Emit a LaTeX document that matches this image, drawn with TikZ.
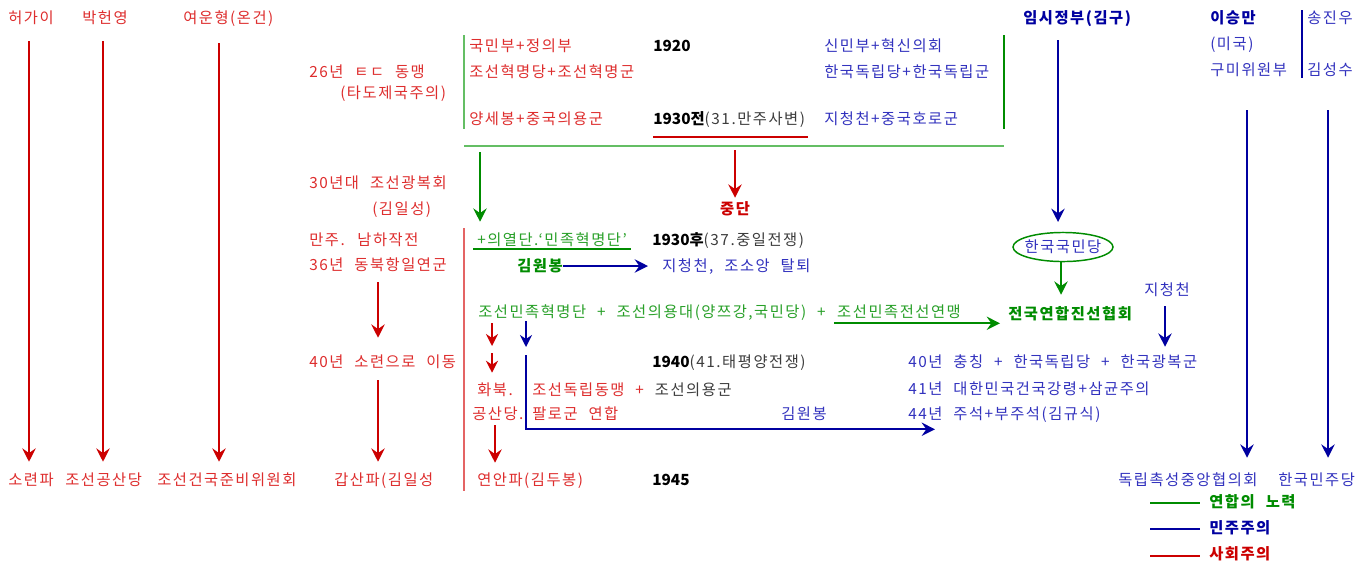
\documentclass[tikz,border=0pt]{standalone}
\usepackage{fontspec}
\newfontfamily\kr[LetterSpace=10,WordSpace=2.2]{Noto Sans CJK KR}
\newfontfamily\krn{Noto Sans CJK KR}
\usetikzlibrary{arrows.meta,calc,shapes.geometric}
\definecolor{tred}{RGB}{222,45,45}
\definecolor{ared}{RGB}{204,0,0}
\definecolor{lred}{RGB}{228,100,100}
\definecolor{tblue}{RGB}{50,50,190}
\definecolor{ablue}{RGB}{0,0,160}
\definecolor{tgreen}{RGB}{40,160,40}
\definecolor{agreen}{RGB}{0,140,0}
\definecolor{lgreen}{RGB}{100,190,100}
\definecolor{tgray}{RGB}{60,60,60}
\begin{document}
\begin{tikzpicture}[x=0.75pt,y=-0.75pt,
  lbl/.style={inner sep=0pt, anchor=west, font=\kr\fontsize{11.5pt}{13pt}\selectfont, text height=10pt, text depth=2pt},
  bld/.style={font=\kr\bfseries\fontsize{11.5pt}{13pt}\selectfont},
  rt/.style={lbl, text=tred},
  bt/.style={lbl, text=tblue},
  gt/.style={lbl, text=tgreen},
  kt/.style={lbl, text=black},
  arr/.style={line width=1.5pt, -{Stealth[length=10pt,width=10pt,inset=3.5pt]}},
  sarr/.style={line width=1.5pt, -{Stealth[length=9pt,width=9pt,inset=3pt]}},
  rarr/.style={arr, draw=ared},
  barr/.style={arr, draw=ablue},
  garr/.style={arr, draw=agreen, line width=1.3pt},
  rsarr/.style={sarr, draw=ared},
  bsarr/.style={sarr, draw=ablue},
  legline/.style={line width=2.2pt},
]
\useasboundingbox (0,0) rectangle (1370,562);
\fill[white] (0,0) rectangle (1370,562);

% ---------- top labels (left) ----------
\node[rt] (hg)  at (8,18)   {허가이};
\node[rt] (bhy) at (82,18)  {박헌영};
\node[rt] (ywh) at (183,18) {여운형(온건)};
% ---------- bottom labels ----------
\node[rt] (slp) at (8,480)   {소련파};
\node[rt] (jgs) at (65,480)  {조선공산당};
\node[rt] (jgj) at (157,480) {조선건국준비위원회};
\node[rt] (gsp) at (334,480) {갑산파(김일성};

\draw[rarr] ($(hg.south west)+(21,15)$)  -- ($(hg.south west |- slp.north)+(21,-10)$);
\draw[rarr] ($(bhy.south west)+(21,15)$) -- ($(bhy.south west |- jgs.north)+(21,-10)$);
\draw[rarr] ($(ywh.south west)+(36,17)$) -- ($(ywh.south west |- jgj.north)+(36,-10)$);

% ---------- left column ----------
\node[rt] (l26)  at (309,72)  {26년 ㅌㄷ 동맹};
\node[rt] (l26b) at (340,93)  {(타도제국주의)};
\node[rt] (l30)  at (309,183) {30년대 조선광복회};
\node[rt] (l30b) at (372,209) {(김일성)};
\node[rt] (lmj)  at (309,240) {만주. 남하작전};
\node[rt] (l36)  at (309,265) {36년 동북항일연군};
\node[rt] (l40)  at (309,362) {40년 소련으로 이동};

\draw[rarr] ($(l36.south west)+(69,9)$)  -- ($(l36.south west |- l40.north)+(69,-16)$);
\draw[rarr] ($(l40.south west)+(69,10)$) -- ($(l40.south west |- gsp.north)+(69,-10)$);

% ---------- 1920s box ----------
\draw[lgreen, line width=1.2pt] (464,35) -- (464,129);
\draw[agreen, line width=1.2pt] (1004,35) -- (1004,129);
\coordinate (bxl) at (464,146);
\coordinate (bxr) at (1004,146);
\draw[lgreen, line width=1.3pt] (bxl) -- (bxr);

\node[rt] (kmb) at (469,46)  {국민부+정의부};
\node[kt] (y1920) at (653,46) {\krn\bfseries 1920};
\node[bt] (smb) at (824,46)  {신민부+혁신의회};
\node[rt] (jhm) at (469,72)  {조선혁명당+조선혁명군};
\node[bt] (hdr) at (824,72)  {한국독립당+한국독립군};
\node[rt] (ysb) at (469,119) {양세봉+중국의용군};
\node[kt] (y1930a) at (653,119) {{\krn\bfseries 1930}{\bfseries 전}\textcolor{tgray}{(31.만주사변)}};
\node[bt] (jcc) at (824,119) {지청천+중국호로군};
\draw[ared, line width=1.2pt] (653,137) -- (808,137);

\node[lbl, bld, anchor=center, text=ared] (jd) at (735,209) {중단};
\coordinate (rA) at (735,150);
\draw[rarr] (rA) -- ($(rA |- jd.north)+(0,-3)$);

% ---------- 1930s ----------
\draw[lred, line width=1.2pt] (464,228) -- (464,491);

\node[gt] (uyd) at (477,240) {+의열단.‘민족혁명단’};
\draw[agreen, line width=1.3pt] (473,249) -- (631,249);
\coordinate (gA) at (480,152);
\draw[garr] (gA) -- ($(gA |- uyd.north)+(0,-10)$);

\node[kt] (y1930b) at (652,240) {{\krn\bfseries 1930}{\bfseries 후}\textcolor{tgray}{(37.중일전쟁)}};
\node[gt,bld,text=agreen] (kwb1) at (517,266) {김원봉};
\node[bt] (jcj) at (662,266) {지청천, 조소앙 탈퇴};
\draw[barr] (kwb1.east) -- ($(jcj.west)+(-14,0)$);

\node[gt] (jmh) at (478,312) {조선민족혁명단 + 조선의용대(양쯔강,국민당) +\ \mbox{}};
\node[gt] (jmf) at (jmh.east) {조선민족전선연맹};
\node[gt,bld,text=agreen] (jyj) at (1008,314) {전국연합진선협회};
\draw[garr] ($(jmf.south west)+(-3,3)$) -- ($(jmf.south west -| jyj.west)+(-8,3)$);

\node[lbl,bld,text=ablue] (igov) at (1023,18) {임시정부(김구)};
\node[lbl, anchor=center, text=tblue] (hkm) at (1063,247) {한국국민당};
\draw[agreen, line width=1.1pt] (hkm.center) ellipse [x radius=37.5pt, y radius=10.9pt];
\coordinate (hkmT) at ($(hkm.center)+(0,-15)$);
\coordinate (hkmB) at ($(hkm.center)+(-2,15)$);
\coordinate (bA) at (1058,40);
\draw[barr] (bA) -- ($(bA |- hkmT)+(0,-10)$);
\draw[garr] (hkmB) -- ($(hkmB |- jyj.north)+(0,-11)$);

\node[bt] (jct) at (1144,290) {지청천};

% ---------- 1940s ----------
\node[kt] (y1940) at (652,362) {{\krn\bfseries 1940}\textcolor{tgray}{(41.태평양전쟁)}};
\node[bt] (c40) at (908,362) {40년 충칭 + 한국독립당 + 한국광복군};
\node[bt] (c41) at (908,389) {41년 대한민국건국강령+삼균주의};
\node[bt] (c44) at (908,414) {44년 주석+부주석(김규식)};
\draw[barr] ($(jct.south west)+(21,8)$) -- ($(jct.south west |- c40.north)+(21,-7)$);

\node[rt] (hb)  at (477,390) {화북.};
\node[rt] (gsd) at (472,414) {공산당.};
\node[rt] (jdl) at (532,390) {조선독립동맹 + \textcolor{tgray}{조선의용군}};
\node[rt] (pgh) at (532,414) {팔로군 연합};
\node[bt] (kwb2) at (781,414) {김원봉};
\node[rt] (yap) at (477,480) {연안파(김두봉)};
\node[kt] (y1945) at (652,480) {\krn\bfseries 1945};

\coordinate (r1) at (492,323);
\coordinate (r1e) at (492,346);
\draw[rsarr] (r1) -- (r1e);
\coordinate (r2) at (492,353);
\draw[rsarr] (r2) -- ($(r2 |- hb.north)+(0,-9)$);
\coordinate (b1) at (526,321);
\coordinate (b1e) at (526,347);
\draw[bsarr] (b1) -- (b1e);
\coordinate (b2) at (526,355);
\draw[barr] (b2) |- ($(c44.south west)+(27,7)$);
\draw[rarr] ($(gsd.south west)+(23,3)$) -- ($(gsd.south west |- yap.north)+(23,-9)$);

% ---------- right ----------
\node[lbl,bld,text=ablue] (lsm) at (1210,18) {이승만};
\node[bt] (mg)  at (1210,44) {(미국)};
\node[bt] (gmw) at (1210,70) {구미위원부};
\node[bt] (sjw) at (1307,18) {송진우};
\node[bt] (gss) at (1307,70) {김성수};
\draw[ablue, line width=2.2pt] (1302,10) -- (1302,78);
\node[bt] (djh) at (1118,480) {독립촉성중앙협의회};
\node[bt] (hmj) at (1278,480) {한국민주당};
\coordinate (lA) at (1247,110);
\coordinate (sA) at (1328,110);
\draw[barr] (lA) -- ($(lA |- djh.north)+(0,-14)$);
\draw[barr] (sA) -- ($(sA |- hmj.north)+(0,-14)$);

% ---------- legend ----------
\node[lbl,bld,text=agreen] (lg1) at (1209,502) {연합의 노력};
\node[lbl,bld,text=ablue]  (lg2) at (1209,528) {민주주의};
\node[lbl,bld,text=ared]   (lg3) at (1209,554) {사회주의};
\draw[legline, agreen] ($(lg1.west)+(-59,1)$) -- ($(lg1.west)+(-9,1)$);
\draw[legline, ablue]  ($(lg2.west)+(-59,1)$) -- ($(lg2.west)+(-9,1)$);
\draw[legline, ared]   ($(lg3.west)+(-59,2)$) -- ($(lg3.west)+(-9,2)$);
\end{tikzpicture}
\end{document}
